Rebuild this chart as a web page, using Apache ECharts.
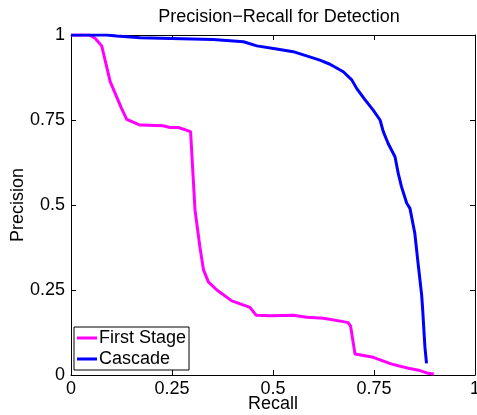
<!DOCTYPE html>
<html>
<head>
<meta charset="utf-8">
<script src="https://cdn.jsdelivr.net/npm/echarts@6/dist/echarts.min.js"></script>
<style>
  html, body { margin: 0; padding: 0; background: #fff; }
  #chart { width: 477px; height: 415px; }
</style>
</head>
<body>
<div id="chart"></div>
<script>
  const titleText = 'Precision\u2212Recall for Detection'
  const seriesNames = ['First Stage', 'Cascade']
  const tickValues = [0, 0.25, 0.5, 0.75, 1]

  const firstRecall = [0, 0.047, 0.06, 0.076, 0.097, 0.113, 0.125, 0.138, 0.171, 0.228, 0.245, 0.266, 0.296,
    0.307, 0.319, 0.328, 0.34, 0.361, 0.398, 0.443, 0.458, 0.493, 0.55, 0.583, 0.625, 0.674, 0.686, 0.692,
    0.703, 0.748, 0.794, 0.835, 0.864, 0.884, 0.898]
  const firstPrecision = [1, 1, 0.99, 0.968, 0.863, 0.818, 0.784, 0.752, 0.735, 0.733, 0.728, 0.728, 0.716,
    0.485, 0.377, 0.309, 0.274, 0.25, 0.218, 0.199, 0.176, 0.174, 0.176, 0.17, 0.167, 0.157, 0.154, 0.144,
    0.062, 0.052, 0.032, 0.02, 0.013, 0.005, 0.003]

  const cascadeRecall = [0, 0.088, 0.113, 0.171, 0.352, 0.427, 0.46, 0.509, 0.55, 0.616, 0.641, 0.674, 0.695,
    0.707, 0.728, 0.748, 0.765, 0.773, 0.785, 0.802, 0.81, 0.818, 0.831, 0.839, 0.851, 0.86, 0.868, 0.87,
    0.876, 0.88]
  const cascadePrecision = [1, 1, 0.997, 0.992, 0.987, 0.98, 0.968, 0.959, 0.951, 0.926, 0.914, 0.892, 0.868,
    0.843, 0.809, 0.779, 0.75, 0.716, 0.681, 0.642, 0.593, 0.554, 0.505, 0.49, 0.417, 0.319, 0.235, 0.201,
    0.083, 0.034]

  const toPairs = (xs, ys) => xs.map((x, i) => [x, ys[i]])

  const fontFamily = 'Liberation Sans, Arial, sans-serif'
  const axisBase = {
    type: 'value',
    min: 0,
    max: 1,
    interval: 0.25,
    axisLine: { show: true, onZero: false, lineStyle: { color: '#000', width: 1 } },
    axisTick: { show: true, inside: true, length: 5, lineStyle: { color: '#000' } },
    splitLine: { show: false },
  }

  const myChart = echarts.init(document.getElementById('chart'))
  const option = {
    animation: false,
    backgroundColor: '#fff',
    title: {
      text: titleText,
      left: 274,
      top: 3,
      textAlign: 'center',
      textStyle: { fontFamily, fontSize: 18, fontWeight: 'normal', color: '#000' },
    },
    grid: { left: 71, right: 2, top: 35, bottom: 40, outerBoundsMode: 'none' },
    legend: {
      data: seriesNames,
      orient: 'vertical',
      left: 74,
      top: 327,
      icon: 'rect',
      itemWidth: 20,
      itemHeight: 3,
      itemGap: 3,
      padding: [2, 3, 2, 3],
      borderColor: '#000',
      borderWidth: 1,
      backgroundColor: '#fff',
      textStyle: { fontFamily, fontSize: 18, color: '#000', padding: [0, 0, 0, -3] },
    },
    xAxis: [
      {
        ...axisBase,
        position: 'bottom',
        name: 'Recall',
        nameLocation: 'middle',
        nameGap: 20,
        nameMoveOverlap: false,
        nameTextStyle: { fontFamily, fontSize: 18, color: '#000' },
        axisLabel: {
          fontFamily, fontSize: 18, color: '#000', margin: 5,
          formatter: v => (tickValues.includes(v) ? String(v) : ''),
        },
      },
      { ...axisBase, position: 'top', axisLabel: { show: false } },
    ],
    yAxis: [
      {
        ...axisBase,
        position: 'left',
        name: 'Precision',
        nameLocation: 'middle',
        nameGap: 44,
        nameMoveOverlap: false,
        nameTextStyle: { fontFamily, fontSize: 18, color: '#000' },
        axisLabel: { fontFamily, fontSize: 18, color: '#000', margin: 6 },
      },
      { ...axisBase, position: 'right', axisLabel: { show: false } },
    ],
    series: [
      {
        name: seriesNames[0],
        type: 'line',
        showSymbol: false,
        symbol: 'none',
        itemStyle: { color: '#ff00ff' },
        lineStyle: { width: 3, color: '#ff00ff' },
        data: toPairs(firstRecall, firstPrecision),
      },
      {
        name: seriesNames[1],
        type: 'line',
        showSymbol: false,
        symbol: 'none',
        itemStyle: { color: '#0000ff' },
        lineStyle: { width: 3, color: '#0000ff' },
        data: toPairs(cascadeRecall, cascadePrecision),
      },
    ],
  }

  option && myChart.setOption(option)
</script>
</body>
</html>
